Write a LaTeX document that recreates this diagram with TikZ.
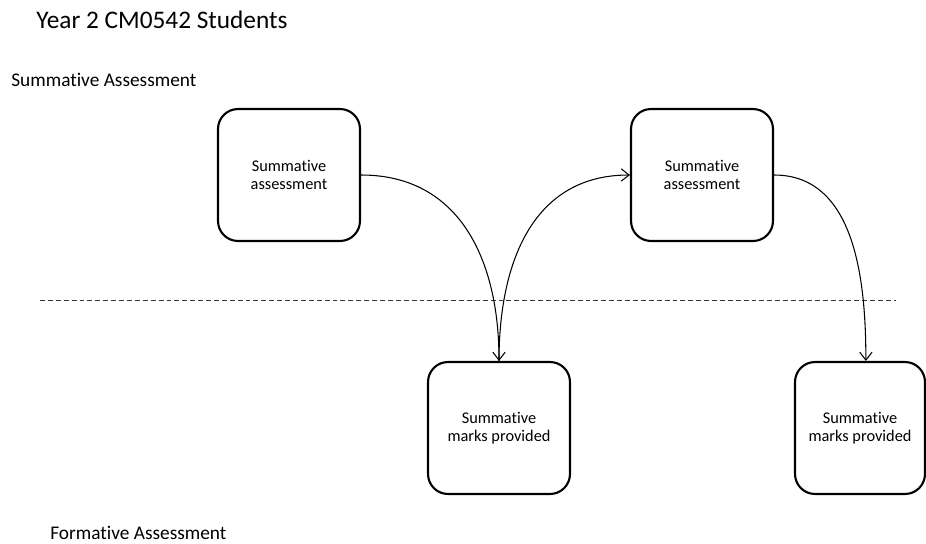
\documentclass[tikz,border=0pt]{standalone}
\usepackage{fontspec}
\setmainfont{Carlito}[Ligatures=NoCommon]
\usetikzlibrary{arrows.meta}

\begin{document}
\begin{tikzpicture}[x=0.02cm, y=-0.02cm,
    box/.style={draw, line width=1.2pt, rounded corners=0.4cm, minimum width=2.84cm,
        minimum height=2.64cm, align=center, font=\fontsize{9.3}{10.4}\selectfont},
    link/.style={-{Straight Barb[length=4.5pt,width=7pt]}, line width=0.6pt}]
    \useasboundingbox (0, 0) rectangle (926, 544);
    % headings
    \node [anchor=base west, inner sep=0, font=\fontsize{14.4}{17}\selectfont] (0) at (36, 29) {Year 2 CM0542 Students};
    \node [anchor=base west, inner sep=0, font=\fontsize{11}{13}\selectfont] (1) at (11, 87) {Summative Assessment};
    \node [anchor=base west, inner sep=0, font=\fontsize{11}{13}\selectfont] (6) at (50, 539) {Formative Assessment};
    % divider
    \coordinate (7) at (40, 300);
    \coordinate (8) at (896, 300);
    \draw [dash pattern=on 2.8pt off 1.7pt, line width=0.5pt, black!80] (7) -- (8);
    % summative (top row)
    \node [box] (2) at (289, 175) {Summative\\assessment};
    \node [box] (3) at (702, 175) {Summative\\assessment};
    % marks (bottom row)
    \node [box] (4) at (499, 428) {Summative\\marks provided};
    \node [box, minimum width=2.6cm] (5) at (860, 428) {Summative\\marks provided};
    \draw [link] (2.east) to[out=0, in=90, looseness=1.1] (4.north);
    \draw [link] (4.north) to[out=90, in=180, looseness=1.1] (3.west);
    \draw [link] (3.east) to[out=0, in=90] (5.85);
\end{tikzpicture}
\end{document}
